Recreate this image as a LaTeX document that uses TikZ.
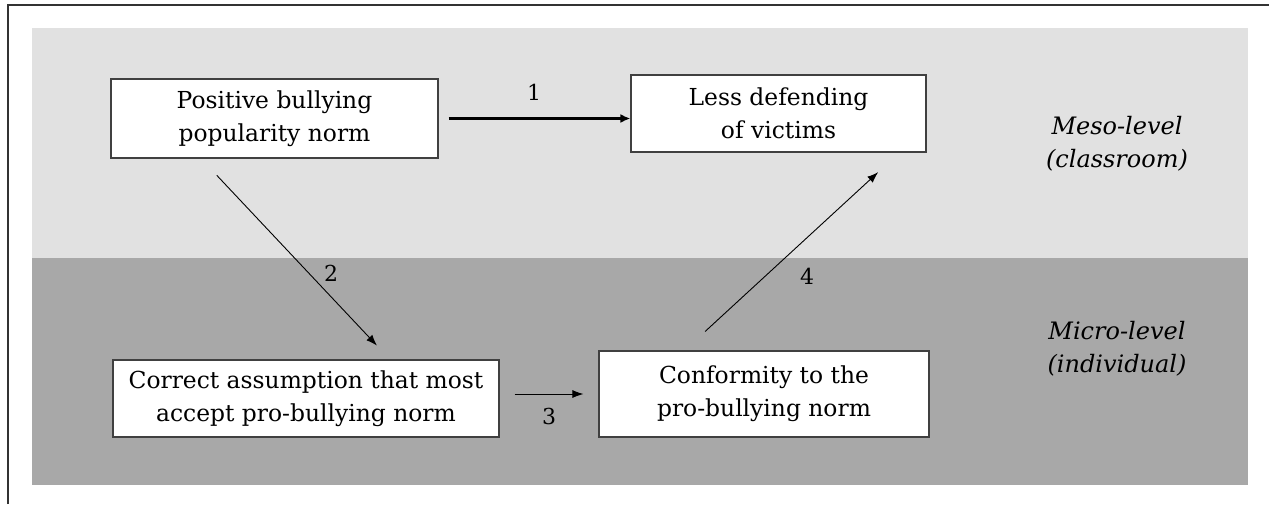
\documentclass[tikz,border=0pt]{standalone}
\usepackage{fontspec}
\setmainfont{DejaVu Serif}
\usetikzlibrary{positioning,shapes,arrows,arrows.meta}
\definecolor{mesogray}{RGB}{225,225,225}
\definecolor{microgray}{RGB}{168,168,168}

\begin{document}
\begin{tikzpicture}[x=1pt, y=-1pt, auto]
	\tikzstyle{block} = [rectangle, draw=black!75, fill=white, text centered, align=center, line width=1.1pt, inner sep=0pt, font=\fontsize{23.4}{33}\selectfont]
	\tikzstyle{line} = [draw, -{Latex[length=11pt,width=8pt]}, line width=0.9pt]
	\tikzstyle{thickline} = [line, line width=2.6pt, -{Latex[length=10pt,width=9pt]}]
	\tikzstyle{num} = [font=\fontsize{22}{26}\selectfont]
	\tikzstyle{level} = [align=center, font=\itshape\fontsize{24}{33}\selectfont]

	% Frame and levels
	\useasboundingbox (0,0) rectangle (1269,504);
	\fill[mesogray] (32,28) rectangle (1248,258);
	\fill[microgray] (32,258) rectangle (1248,485);
	\draw[line width=1.5pt, black!80] (8,504) -- (8,5) -- (1269,5);

	% Place nodes
	\node [block, minimum width=327pt, minimum height=79pt] (P) at (274.5,118.5) {Positive bullying\\popularity norm};
	\node [block, minimum width=295pt, minimum height=77pt] (L) at (778.5,113.5) {Less defending\\of victims};
	\node [block, minimum width=386pt, minimum height=77pt] (C) at (306,398.5) {Correct assumption that most\\accept pro-bullying norm};
	\node [block, minimum width=330pt, minimum height=86pt] (F) at (764,394) {Conformity to the\\pro-bullying norm};
	\node [level] (meso) at (1117,143.5) {Meso-level\\(classroom)};
	\node [level] (micro) at (1117,348.5) {Micro-level\\(individual)};

	% Draw edges
	\path [thickline, shorten <=10pt] (P.east) -- (P.east -| L.west);
	\path [line, shorten <=23pt, shorten >=19pt] ([xshift=-73.5pt]P.south) -- ([xshift=84pt]C.north);
	\path [line, shorten <=15pt, shorten >=15pt] (F.west -| C.east) -- (F.west);
	\path [line, shorten <=28pt, shorten >=29pt] ([xshift=-79.5pt]F.north) -- ([xshift=121pt]L.south);

	% Path numbers
	\node [num] (n1) at (534,92) {1};
	\node [num] (n2) at (331,273) {2};
	\node [num] (n3) at (549,416) {3};
	\node [num] (n4) at (807,276) {4};
\end{tikzpicture}
\end{document}
